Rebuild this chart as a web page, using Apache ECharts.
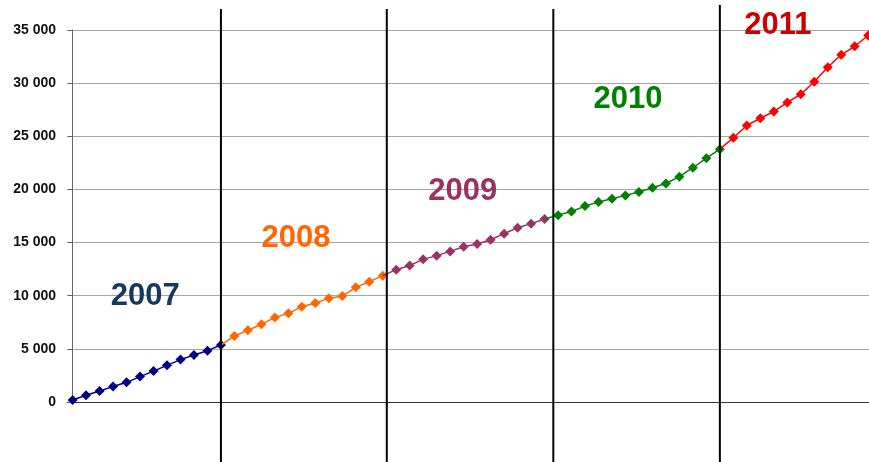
<!DOCTYPE html>
<html>
<head>
<meta charset="utf-8">
<script src="https://cdn.jsdelivr.net/npm/echarts@6/dist/echarts.min.js"></script>
<style>
html,body{margin:0;padding:0;background:#fff;}
#chart{width:869px;height:462px;}
</style>
</head>
<body>
<div id="chart"></div>
<script>
// ---- data (monthly cumulative values, month index 0..59) ----
const years = ['2007', '2008', '2009', '2010', '2011'];
const values2007 = [190, 630, 1030, 1450, 1850, 2390, 2910, 3450, 3990, 4420, 4830, 5360];
const values2008 = [6210, 6740, 7310, 7960, 8340, 8970, 9310, 9750, 9970, 10790, 11320, 11890];
const values2009 = [12450, 12850, 13420, 13770, 14170, 14610, 14860, 15270, 15840, 16400, 16780, 17210];
const values2010 = [17580, 17930, 18430, 18810, 19130, 19440, 19750, 20160, 20560, 21200, 22040, 22940, 23790];
const values2011 = [24860, 26020, 26700, 27330, 28180, 28960, 30130, 31500, 32670, 33470, 34480];
const yTicks = [0, 5000, 10000, 15000, 20000, 25000, 30000, 35000];
const seriesColors = ['#000080', '#FF6600', '#993366', '#008000', '#FF0000'];
const labelColors = ['#17375E', '#FF6600', '#993366', '#008000', '#CC0000'];
// annotation anchors, in data units [month index, value]
const yearLabelAnchors = [[5.39, 9890], [16.57, 15390], [28.93, 19780], [41.18, 28440], [52.31, 35450]];
// year divider positions, in month-index units
const dividerPositions = [11.0, 23.3, 35.65, 48.0];
const dividerTops = [9, 9, 9, 5];

const allYears = [values2007, values2008, values2009, values2010, values2011];

const chart = echarts.init(document.getElementById('chart'));
const series = [];
let idx = 0;
let prev = null;
allYears.forEach((vals, k) => {
  const data = [];
  if (prev) data.push({ value: prev, symbol: 'none' });
  vals.forEach(v => { data.push([idx, v]); idx++; });
  prev = [idx - 1, vals[vals.length - 1]];
  series.push({
    type: 'line',
    name: years[k],
    data: data,
    symbol: 'diamond',
    symbolSize: 10,
    showAllSymbol: true,
    clip: false,
    z: 3 + k,
    lineStyle: { color: seriesColors[k], width: 1.5 },
    itemStyle: { color: seriesColors[k] },
    animation: false
  });
});

const option = {
  animation: false,
  backgroundColor: '#fff',
  grid: { left: 67, right: 0, top: 30, bottom: 60, containLabel: false },
  xAxis: {
    type: 'value',
    min: -0.415,
    max: 59.06,
    axisLine: { show: true, lineStyle: { color: '#333', width: 1 } },
    axisTick: { show: false },
    axisLabel: { show: false },
    splitLine: { show: false }
  },
  yAxis: {
    type: 'value',
    min: yTicks[0],
    max: yTicks[yTicks.length - 1],
    interval: 5000,
    axisLine: { show: true, lineStyle: { color: '#666', width: 1 } },
    axisTick: { show: true, length: 5, lineStyle: { color: '#666' } },
    axisLabel: {
      margin: 11,
      color: '#111',
      fontFamily: 'Liberation Sans, Arial, sans-serif',
      fontWeight: 'bold',
      fontSize: 14,
      formatter: v => String(v).replace(/\B(?=(\d{3})+(?!\d))/g, ' ')
    },
    splitLine: { show: true, lineStyle: { color: '#a6a6a6', width: 1 } }
  },
  series: series
};
chart.setOption(option);

// dividers and year labels placed through the chart's own scales
const H = 462;
const elements = [];
dividerPositions.forEach((m, i) => {
  const px = chart.convertToPixel({ gridIndex: 0 }, [m, 0])[0];
  elements.push({
    type: 'line',
    shape: { x1: px, y1: dividerTops[i], x2: px, y2: H },
    style: { stroke: '#000', lineWidth: 2 },
    z: 100
  });
});
yearLabelAnchors.forEach((a, i) => {
  const p = chart.convertToPixel({ gridIndex: 0 }, a);
  elements.push({
    type: 'text',
    x: p[0], y: p[1],
    style: {
      text: years[i],
      fill: labelColors[i],
      font: 'bold 31px "Liberation Sans", Arial, sans-serif',
      align: 'center',
      verticalAlign: 'middle'
    },
    z: 101
  });
});
chart.setOption({ graphic: { elements: elements } });
</script>
</body>
</html>
